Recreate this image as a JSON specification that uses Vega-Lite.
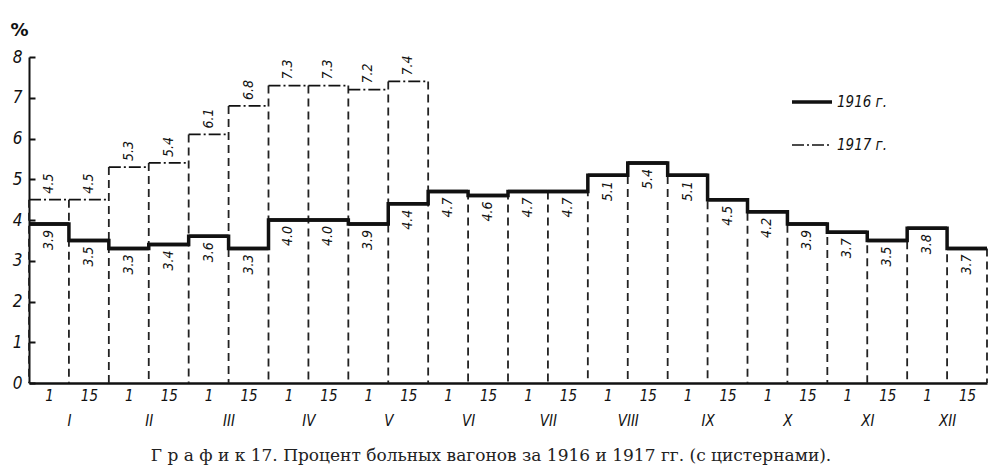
{
  "$schema": "https://vega.github.io/schema/vega-lite/v6.json",
  "autosize": "none",
  "width": 958,
  "height": 326,
  "padding": {"left": 29, "top": 57, "right": 12, "bottom": 87},
  "background": "#ffffff",
  "config": {"view": {"stroke": null}},
  "title": {
    "text": "Г р а ф и к 17. Процент больных вагонов за 1916 и 1917 гг. (с цистернами).",
    "orient": "bottom",
    "anchor": "middle",
    "font": "DejaVu Serif",
    "fontSize": 17,
    "fontWeight": "normal",
    "color": "#222",
    "offset": 20,
    "dx": -17
  },
  "data": {
    "values": [
      {"year": "1916 г.", "from": 0, "to": 1, "pct": 3.9, "label": "3.9"},
      {"year": "1916 г.", "from": 1, "to": 2, "pct": 3.5, "label": "3.5"},
      {"year": "1916 г.", "from": 2, "to": 3, "pct": 3.3, "label": "3.3"},
      {"year": "1916 г.", "from": 3, "to": 4, "pct": 3.4, "label": "3.4"},
      {"year": "1916 г.", "from": 4, "to": 5, "pct": 3.6, "label": "3.6"},
      {"year": "1916 г.", "from": 5, "to": 6, "pct": 3.3, "label": "3.3"},
      {"year": "1916 г.", "from": 6, "to": 7, "pct": 4.0, "label": "4.0"},
      {"year": "1916 г.", "from": 7, "to": 8, "pct": 4.0, "label": "4.0"},
      {"year": "1916 г.", "from": 8, "to": 9, "pct": 3.9, "label": "3.9"},
      {"year": "1916 г.", "from": 9, "to": 10, "pct": 4.4, "label": "4.4"},
      {"year": "1916 г.", "from": 10, "to": 11, "pct": 4.7, "label": "4.7"},
      {"year": "1916 г.", "from": 11, "to": 12, "pct": 4.6, "label": "4.6"},
      {"year": "1916 г.", "from": 12, "to": 13, "pct": 4.7, "label": "4.7"},
      {"year": "1916 г.", "from": 13, "to": 14, "pct": 4.7, "label": "4.7"},
      {"year": "1916 г.", "from": 14, "to": 15, "pct": 5.1, "label": "5.1"},
      {"year": "1916 г.", "from": 15, "to": 16, "pct": 5.4, "label": "5.4"},
      {"year": "1916 г.", "from": 16, "to": 17, "pct": 5.1, "label": "5.1"},
      {"year": "1916 г.", "from": 17, "to": 18, "pct": 4.5, "label": "4.5"},
      {"year": "1916 г.", "from": 18, "to": 19, "pct": 4.2, "label": "4.2"},
      {"year": "1916 г.", "from": 19, "to": 20, "pct": 3.9, "label": "3.9"},
      {"year": "1916 г.", "from": 20, "to": 21, "pct": 3.7, "label": "3.7"},
      {"year": "1916 г.", "from": 21, "to": 22, "pct": 3.5, "label": "3.5"},
      {"year": "1916 г.", "from": 22, "to": 23, "pct": 3.8, "label": "3.8"},
      {"year": "1916 г.", "from": 23, "to": 24, "pct": 3.3, "label": "3.7"},
      {"year": "1917 г.", "from": 0, "to": 1, "pct": 4.5, "label": "4.5"},
      {"year": "1917 г.", "from": 1, "to": 2, "pct": 4.5, "label": "4.5"},
      {"year": "1917 г.", "from": 2, "to": 3, "pct": 5.3, "label": "5.3"},
      {"year": "1917 г.", "from": 3, "to": 4, "pct": 5.4, "label": "5.4"},
      {"year": "1917 г.", "from": 4, "to": 5, "pct": 6.1, "label": "6.1"},
      {"year": "1917 г.", "from": 5, "to": 6, "pct": 6.8, "label": "6.8"},
      {"year": "1917 г.", "from": 6, "to": 7, "pct": 7.3, "label": "7.3"},
      {"year": "1917 г.", "from": 7, "to": 8, "pct": 7.3, "label": "7.3"},
      {"year": "1917 г.", "from": 8, "to": 9, "pct": 7.2, "label": "7.2"},
      {"year": "1917 г.", "from": 9, "to": 10, "pct": 7.4, "label": "7.4"}
    ]
  },
  "layer": [
    {
      "transform": [
        {"fold": ["from", "to"], "as": ["edge", "xpos"]},
        {"aggregate": [{"op": "max", "field": "pct", "as": "top"}], "groupby": ["xpos"]}
      ],
      "mark": {"type": "rule", "strokeDash": [8, 5], "strokeWidth": 1.8, "color": "#222"},
      "encoding": {
        "x": {
          "field": "xpos",
          "type": "quantitative",
          "scale": {"domain": [0, 24], "nice": false, "zero": false},
          "axis": {
            "title": null,
            "grid": false,
            "ticks": false,
            "tickCount": 200,
            "domainColor": "#111",
            "domainWidth": 2.5,
            "values": [0.5, 1, 1.5, 2.5, 3, 3.5, 4.5, 5, 5.5, 6.5, 7, 7.5, 8.5, 9, 9.5, 10.5, 11, 11.5, 12.5, 13, 13.5, 14.5, 15, 15.5, 16.5, 17, 17.5, 18.5, 19, 19.5, 20.5, 21, 21.5, 22.5, 23, 23.5],
            "labelExpr": "datum.value % 1 != 0 ? (floor(datum.value) % 2 == 0 ? '1' : '15') : [' ', ['I','II','III','IV','V','VI','VII','VIII','IX','X','XI','XII'][(datum.value - 1) / 2]]",
            "labelOverlap": false,
            "labelFlush": false,
            "labelBound": false,
            "labelPadding": 5,
            "labelFont": "'DejaVu Sans Condensed', 'DejaVu Sans', sans-serif",
            "labelFontStyle": "italic",
            "labelFontSize": 15,
            "labelLineHeight": 25,
            "labelColor": "#111"
          }
        },
        "y": {
          "field": "top",
          "type": "quantitative",
          "scale": {"domain": [0, 8], "nice": false},
          "axis": {
            "title": "%",
            "titleAngle": 0,
            "titleX": -10,
            "titleY": -27,
            "titleAlign": "center",
            "titleBaseline": "middle",
            "titleFont": "'DejaVu Sans', sans-serif",
            "titleFontSize": 18,
            "titleFontWeight": "bold",
            "titleColor": "#111",
            "grid": false,
            "values": [0, 1, 2, 3, 4, 5, 6, 7, 8],
            "tickSize": -6,
            "tickWidth": 2,
            "tickColor": "#111",
            "domainColor": "#111",
            "domainWidth": 2,
            "labelPadding": 13,
            "labelFont": "'DejaVu Sans Condensed', 'DejaVu Sans', sans-serif",
            "labelFontStyle": "italic",
            "labelFontSize": 17,
            "labelColor": "#111"
          }
        },
        "y2": {"datum": 0}
      }
    },
    {
      "mark": {"type": "rule", "color": "#111"},
      "encoding": {
        "x": {"field": "from", "type": "quantitative"},
        "x2": {"field": "to"},
        "y": {"field": "pct", "type": "quantitative"},
        "strokeDash": {
          "field": "year",
          "type": "ordinal",
          "scale": {"domain": ["1916 г.", "1917 г."], "range": [[1, 0], [12, 3, 2, 3]]},
          "legend": {
            "title": null,
            "orient": "none",
            "legendX": 761,
            "legendY": 23,
            "symbolType": "stroke",
            "symbolSize": 1600,
            "symbolStrokeColor": "#111",
            "labelFont": "'DejaVu Sans Condensed', 'DejaVu Sans', sans-serif",
            "labelFontStyle": "italic",
            "labelFontSize": 15,
            "labelColor": "#111",
            "labelOffset": 3,
            "rowPadding": 14
          }
        },
        "strokeWidth": {
          "field": "year",
          "type": "ordinal",
          "scale": {"domain": ["1916 г.", "1917 г."], "range": [3.5, 1.7]},
          "legend": {
            "title": null,
            "orient": "none",
            "legendX": 761,
            "legendY": 23,
            "symbolType": "stroke",
            "symbolSize": 1600,
            "symbolStrokeColor": "#111",
            "labelFont": "'DejaVu Sans Condensed', 'DejaVu Sans', sans-serif",
            "labelFontStyle": "italic",
            "labelFontSize": 15,
            "labelColor": "#111",
            "labelOffset": 3,
            "rowPadding": 14
          }
        }
      }
    },
    {
      "transform": [
        {"filter": "datum.year == '1916 г.'"},
        {"fold": ["from", "to"], "as": ["edge", "xpos"]}
      ],
      "mark": {"type": "line", "color": "#111", "strokeWidth": 3.5, "strokeJoin": "miter"},
      "encoding": {
        "x": {"field": "xpos", "type": "quantitative"},
        "y": {"field": "pct", "type": "quantitative"},
        "order": [{"field": "from", "type": "quantitative"}, {"field": "edge", "type": "nominal"}]
      }
    },
    {
      "transform": [{"filter": "datum.year == '1917 г.'"}, {"calculate": "(datum.from + datum.to) / 2", "as": "mid"}],
      "mark": {
        "type": "text",
        "angle": 270,
        "align": "left",
        "baseline": "middle",
        "dx": 6,
        "font": "'DejaVu Sans Condensed', 'DejaVu Sans', sans-serif",
        "fontStyle": "italic",
        "fontSize": 14,
        "color": "#111"
      },
      "encoding": {
        "x": {"field": "mid", "type": "quantitative"},
        "y": {"field": "pct", "type": "quantitative"},
        "text": {"field": "label"}
      }
    },
    {
      "transform": [{"filter": "datum.year == '1916 г.'"}, {"calculate": "(datum.from + datum.to) / 2", "as": "mid"}],
      "mark": {
        "type": "text",
        "angle": 270,
        "align": "right",
        "baseline": "middle",
        "dx": -6,
        "font": "'DejaVu Sans Condensed', 'DejaVu Sans', sans-serif",
        "fontStyle": "italic",
        "fontSize": 14,
        "color": "#111"
      },
      "encoding": {
        "x": {"field": "mid", "type": "quantitative"},
        "y": {"field": "pct", "type": "quantitative"},
        "text": {"field": "label"}
      }
    }
  ]
}
